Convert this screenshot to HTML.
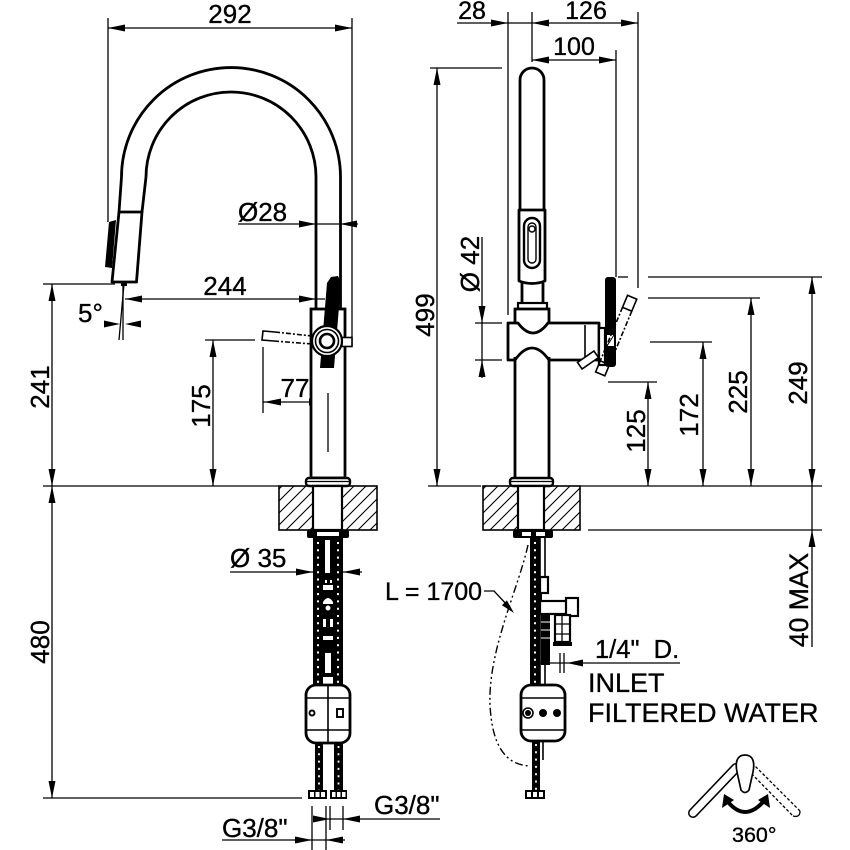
<!DOCTYPE html>
<html><head><meta charset="utf-8"><style>
html,body{margin:0;padding:0;background:#fff;}
svg{display:block;}
text{font-family:"Liberation Sans",Arial,sans-serif;fill:#000;stroke:#000;stroke-width:0.35;}
</style></head><body>
<svg width="850" height="850" viewBox="0 0 850 850" xmlns="http://www.w3.org/2000/svg">
<defs>
<pattern id="h" patternUnits="userSpaceOnUse" width="12" height="12">
<path d="M0,12 L12,0 M-3,3 L3,-3 M9,15 L15,9" stroke="#000" stroke-width="1.1"/>
</pattern>
</defs>
<rect width="850" height="850" fill="#fff"/>

<!-- ============ LEFT VIEW: DIMENSIONS ============ -->
<g stroke="#000" stroke-width="1.3" fill="none">
<line x1="108" y1="18" x2="108" y2="222"/>
<line x1="352" y1="18" x2="352" y2="346"/>
<line x1="108" y1="28" x2="352" y2="28"/>
<line x1="238" y1="224" x2="358" y2="224"/>
<line x1="125" y1="299" x2="325" y2="299"/>
<line x1="123" y1="284" x2="123" y2="340"/>
<line x1="124" y1="284" x2="119" y2="340"/>
<line x1="43" y1="284" x2="115" y2="284"/>
<line x1="52" y1="284" x2="52" y2="798"/>
<line x1="43" y1="486" x2="279" y2="486"/>
<line x1="43" y1="798" x2="302" y2="798"/>
<line x1="205" y1="340" x2="255" y2="340"/>
<line x1="213" y1="340" x2="213" y2="486"/>
<line x1="263" y1="347" x2="263" y2="413"/>
<line x1="263" y1="402" x2="328" y2="402"/>
<line x1="328" y1="393" x2="328" y2="452"/>
<line x1="230" y1="572" x2="362" y2="572"/>
<line x1="222" y1="840" x2="345" y2="840"/>
<line x1="313" y1="819" x2="440" y2="819"/>
<line x1="312" y1="806" x2="312" y2="850"/>
<line x1="326" y1="806" x2="326" y2="850"/>
<line x1="330" y1="806" x2="330" y2="830"/>
<line x1="343" y1="806" x2="343" y2="830"/>
</g>
<g fill="#000">
<polygon points="108,28 125,24.5 125,31.5"/>
<polygon points="352,28 335,24.5 335,31.5"/>
<polygon points="316,224 299,220.5 299,227.5"/>
<polygon points="340,224 357,220.5 357,227.5"/>
<polygon points="125,299 142,295.5 142,302.5"/>
<polygon points="316,299 299,295.5 299,302.5"/>
<polygon points="120,324 104,320.5 104,327.5"/>
<polygon points="125,324 141,320.5 141,327.5"/>
<polygon points="52,284 48.5,301 55.5,301"/>
<polygon points="52,486 48.5,469 55.5,469"/>
<polygon points="52,486 48.5,503 55.5,503"/>
<polygon points="52,798 48.5,781 55.5,781"/>
<polygon points="213,340 209.5,357 216.5,357"/>
<polygon points="213,486 209.5,469 216.5,469"/>
<polygon points="264,402 281,398.5 281,405.5"/>
<polygon points="326,402 309,398.5 309,405.5"/>
<polygon points="313,572 296,568.5 296,575.5"/>
<polygon points="343,572 360,568.5 360,575.5"/>
<polygon points="312,840 295,836.5 295,843.5"/>
<polygon points="326,840 343,836.5 343,843.5"/>
<polygon points="330,819 313,815.5 313,822.5"/>
<polygon points="343,819 360,815.5 360,822.5"/>
</g>
<text x="230" y="23" font-size="26" text-anchor="middle">292</text>
<text x="238" y="221" font-size="26">Ø28</text>
<text x="225" y="295" font-size="26" text-anchor="middle">244</text>
<text x="78" y="322" font-size="26">5°</text>
<text transform="translate(49,387) rotate(-90)" font-size="26" text-anchor="middle">241</text>
<text transform="translate(49,642) rotate(-90)" font-size="26" text-anchor="middle">480</text>
<text transform="translate(210,406) rotate(-90)" font-size="26" text-anchor="middle">175</text>
<text x="295" y="397" font-size="26" text-anchor="middle">77</text>
<text x="230" y="567" font-size="26">Ø 35</text>
<text x="222" y="837" font-size="26">G3/8"</text>
<text x="374" y="814" font-size="26">G3/8"</text>

<!-- ============ LEFT VIEW: FAUCET ============ -->
<g stroke="#000" stroke-width="2.8" fill="none" stroke-linejoin="round">
<path d="M121.5,177 A109.5,109.5 0 0 1 340.5,177 L340.5,309"/>
<path d="M121.5,177 L119,212"/>
<path d="M146,177 A85,85 0 0 1 316,177 L316,309"/>
<path d="M146,177 L142,212"/>
<path d="M119,212 L142,212 L136.5,282 L112,282 Z" fill="#fff"/>
</g>
<polygon points="109,222 116,220 112,268 105,267" fill="#000"/>
<rect x="121" y="282" width="6" height="4" fill="#000"/>
<!-- body -->
<rect x="311" y="309" width="34" height="169" fill="#fff" stroke="#000" stroke-width="2.8"/>
<line x1="328" y1="393" x2="328" y2="452" stroke="#000" stroke-width="1.3"/>
<!-- dashed handle -->
<g stroke="#000" stroke-width="1.6" fill="none">
<path d="M275,332 L263,331 L262,340 L274,341"/>
<path d="M275,332 L312,336 M274,341 L312,344" stroke-dasharray="5 2 2 2"/>
</g>
<rect x="342" y="337.5" width="10" height="9" fill="#fff" stroke="#000" stroke-width="1.6"/>
<polygon points="327,283 331,277 338,276 341,282 334,368 320,368" fill="#000"/>
<circle cx="327" cy="341" r="15" fill="#fff" stroke="#000" stroke-width="2.2"/>
<circle cx="327" cy="341" r="11.5" fill="none" stroke="#000" stroke-width="1.6"/>
<circle cx="327" cy="341" r="7" fill="#fff" stroke="#000" stroke-width="2.6"/>
<!-- flange -->
<rect x="306" y="478" width="44" height="8" rx="3" fill="#fff" stroke="#000" stroke-width="2.4"/>
<line x1="307" y1="481.5" x2="349" y2="481.5" stroke="#000" stroke-width="1.3"/>
<!-- deck -->
<rect x="279" y="486" width="98" height="44" fill="url(#h)" stroke="#000" stroke-width="1.6"/>
<rect x="313" y="486" width="29" height="44" fill="#fff" stroke="#000" stroke-width="2.2"/>
<!-- nut -->
<rect x="307" y="530" width="42" height="8" rx="2" fill="#000"/>
<rect x="317" y="532" width="22" height="4" fill="#fff"/>
<!-- hoses -->
<rect x="313" y="538" width="30" height="147" fill="#000"/>
<g stroke="#fff" stroke-width="2" stroke-dasharray="2 5.3">
<line x1="318" y1="542" x2="318" y2="685"/>
<line x1="338" y1="542" x2="338" y2="685"/>
</g>
<g fill="#fff">
<rect x="325" y="540" width="5" height="33"/>
<rect x="325" y="580" width="2" height="3"/><rect x="330" y="580" width="2" height="3"/>
<rect x="323" y="585" width="10" height="5"/>
<path d="M323,602 Q328,594 333,602 L333,604 L323,604 Z"/>
<circle cx="328" cy="608" r="2.5"/>
<rect x="323" y="619" width="3" height="8"/><rect x="330" y="619" width="3" height="8"/>
<rect x="323" y="636" width="10" height="4"/>
<rect x="325" y="653" width="6" height="20"/>
<rect x="323" y="677" width="10" height="8"/>
</g>
<!-- valve box left -->
<rect x="306" y="685" width="44" height="58" rx="10" fill="#fff" stroke="#000" stroke-width="2.8"/>
<g stroke="#000" stroke-width="1.6">
<line x1="307" y1="698" x2="349" y2="698"/>
<line x1="307" y1="730" x2="349" y2="730"/>
<line x1="328" y1="686" x2="328" y2="742"/>
</g>
<circle cx="312" cy="713" r="2.5" fill="none" stroke="#000" stroke-width="1.9"/>
<rect x="337" y="709" width="6" height="8" fill="none" stroke="#000" stroke-width="1.9"/>
<rect x="315" y="743" width="8" height="47" fill="#000"/>
<rect x="334" y="743" width="9" height="47" fill="#000"/>
<g stroke="#fff" stroke-width="1.8" stroke-dasharray="2 5.3">
<line x1="319" y1="746" x2="319" y2="790"/>
<line x1="338.5" y1="746" x2="338.5" y2="790"/>
</g>
<rect x="308" y="790" width="19" height="9" fill="#000"/>
<rect x="330" y="790" width="17" height="9" fill="#000"/>
<g fill="#fff">
<rect x="310" y="792" width="4" height="5"/><rect x="315.5" y="792" width="4" height="5"/><rect x="321" y="792" width="4" height="5"/>
<rect x="332" y="792" width="3.5" height="5"/><rect x="337" y="792" width="3.5" height="5"/><rect x="342" y="792" width="3.5" height="5"/>
</g>

<!-- ============ RIGHT VIEW: DIMENSIONS ============ -->
<g stroke="#000" stroke-width="1.3" fill="none">
<line x1="508" y1="12" x2="508" y2="315"/>
<line x1="532" y1="12" x2="532" y2="62"/>
<line x1="638" y1="12" x2="638" y2="288"/>
<line x1="616" y1="50" x2="616" y2="277"/>
<line x1="457" y1="23" x2="638" y2="23"/>
<line x1="532" y1="60" x2="616" y2="60"/>
<line x1="430" y1="68" x2="502" y2="68"/>
<line x1="437" y1="68" x2="437" y2="486"/>
<line x1="428" y1="486" x2="481" y2="486"/>
<line x1="482" y1="237" x2="482" y2="378"/>
<line x1="475" y1="323" x2="502" y2="323"/>
<line x1="475" y1="360" x2="502" y2="360"/>
<line x1="608" y1="382" x2="657" y2="382"/>
<line x1="648" y1="382" x2="648" y2="486"/>
<line x1="650" y1="342" x2="712" y2="342"/>
<line x1="703" y1="342" x2="703" y2="486"/>
<line x1="648" y1="298" x2="760" y2="298"/>
<line x1="751" y1="298" x2="751" y2="486"/>
<line x1="618" y1="277" x2="628" y2="277"/>
<line x1="648" y1="277" x2="822" y2="277"/>
<line x1="812" y1="277" x2="812" y2="647"/>
<line x1="580" y1="486" x2="822" y2="486"/>
<line x1="588" y1="530" x2="822" y2="530"/>
<path d="M484,591 L494,591 L509,607"/>
<line x1="540" y1="663" x2="680" y2="663"/>
<line x1="560" y1="653" x2="560" y2="673"/>
<line x1="564" y1="653" x2="564" y2="673"/>
</g>
<g fill="#000">
<polygon points="508,23 491,19.5 491,26.5"/>
<polygon points="532,23 549,19.5 549,26.5"/>
<polygon points="638,23 621,19.5 621,26.5"/>
<polygon points="532,60 549,56.5 549,63.5"/>
<polygon points="616,60 599,56.5 599,63.5"/>
<polygon points="437,68 433.5,85 440.5,85"/>
<polygon points="437,486 433.5,469 440.5,469"/>
<polygon points="482,323 478.5,306 485.5,306"/>
<polygon points="482,360 478.5,377 485.5,377"/>
<polygon points="648,382 644.5,399 651.5,399"/>
<polygon points="648,486 644.5,469 651.5,469"/>
<polygon points="703,342 699.5,359 706.5,359"/>
<polygon points="703,486 699.5,469 706.5,469"/>
<polygon points="751,298 747.5,315 754.5,315"/>
<polygon points="751,486 747.5,469 754.5,469"/>
<polygon points="812,277 808.5,294 815.5,294"/>
<polygon points="812,486 808.5,469 815.5,469"/>
<polygon points="812,530 808.5,547 815.5,547"/>
<polygon points="514,613 501.9,605.2 506.9,600.4"/>
<polygon points="567,663 583,659.5 583,666.5"/>
</g>
<text x="472" y="19" font-size="25" text-anchor="middle">28</text>
<text x="586" y="19" font-size="25" text-anchor="middle">126</text>
<text x="574" y="55" font-size="25" text-anchor="middle">100</text>
<text transform="translate(434,315) rotate(-90)" font-size="26" text-anchor="middle">499</text>
<text transform="translate(479,264) rotate(-90)" font-size="26" text-anchor="middle">Ø 42</text>
<text transform="translate(645,431) rotate(-90)" font-size="26" text-anchor="middle">125</text>
<text transform="translate(698,415) rotate(-90)" font-size="26" text-anchor="middle">172</text>
<text transform="translate(747,392) rotate(-90)" font-size="26" text-anchor="middle">225</text>
<text transform="translate(807,383) rotate(-90)" font-size="26" text-anchor="middle">249</text>
<text transform="translate(808,600) rotate(-90)" font-size="26.5" text-anchor="middle">40 MAX</text>
<text x="385" y="600" font-size="25">L = 1700</text>
<text x="595" y="658" font-size="25.5" xml:space="preserve">1/4"  D.</text>
<text x="588" y="692" font-size="27">INLET</text>
<text x="588" y="722" font-size="27">FILTERED WATER</text>

<!-- ============ RIGHT VIEW: FAUCET ============ -->
<g stroke="#000" stroke-width="2.8" fill="none" stroke-linejoin="round">
<path d="M520,210 L520,80 A12,12 0 0 1 544,80 L544,210"/>
<path d="M519,210 L545,210 L545,281 Q532,286 519,281 Z" fill="#fff"/>
<path d="M522,283 L522,304 M543,283 L543,304"/>
</g>
<rect x="524" y="218" width="16" height="50" rx="8" fill="none" stroke="#000" stroke-width="2.4"/>
<rect x="528" y="223" width="8" height="40" rx="4" fill="none" stroke="#000" stroke-width="1.4"/>
<circle cx="532" cy="229" r="3" fill="none" stroke="#000" stroke-width="1.4"/>
<rect x="518" y="303" width="29" height="6" fill="#fff" stroke="#000" stroke-width="2.2"/>
<path d="M515,323 L515,309 L549,309 L549,323" fill="#fff" stroke="#000" stroke-width="2.8"/>
<path d="M508,323 L518,323 Q533,343 548,323 L599,323 L599,360 L549,360 Q532,336 515,360 L508,360 Z" fill="#fff" stroke="#000" stroke-width="2.8" stroke-linejoin="round"/>
<line x1="585" y1="325" x2="585" y2="358" stroke="#000" stroke-width="1.6"/>
<path d="M515,357 L515,478 M549,357 L549,478" stroke="#000" stroke-width="2.8"/>
<!-- alt position small part -->
<g transform="rotate(-35 588 360)">
<rect x="578" y="356" width="20" height="8" fill="#fff" stroke="#000" stroke-width="1.6"/>
</g>
<rect x="599" y="328" width="6" height="37" fill="#fff" stroke="#000" stroke-width="2.2"/>
<rect x="605" y="277" width="11" height="90" rx="3" fill="#000"/>
<rect x="607" y="335" width="7" height="11" fill="#fff"/>
<line x1="607" y1="346" x2="614" y2="335" stroke="#000" stroke-width="1"/>
<!-- dashed alt handle -->
<g transform="rotate(22.6 616 336)" stroke="#000" stroke-width="1.6" fill="none">
<rect x="611" y="294" width="10" height="13"/>
<rect x="611" y="365" width="10" height="12"/>
<path d="M611,307 L611,365 M621,307 L621,365" stroke-dasharray="5 2 2 2"/>
</g>
<!-- flange -->
<rect x="510" y="478" width="43" height="8" rx="3" fill="#fff" stroke="#000" stroke-width="2.4"/>
<line x1="511" y1="481.5" x2="552" y2="481.5" stroke="#000" stroke-width="1.3"/>
<!-- deck -->
<rect x="483" y="486" width="97" height="44" fill="url(#h)" stroke="#000" stroke-width="1.6"/>
<rect x="518" y="486" width="26" height="44" fill="#fff" stroke="#000" stroke-width="2.2"/>
<rect x="513" y="530" width="40" height="8" rx="2" fill="#000"/>
<rect x="522" y="532" width="9" height="4" fill="#fff"/><rect x="536" y="532" width="9" height="4" fill="#fff"/>
<!-- hose + fittings -->
<rect x="530" y="538" width="10" height="147" fill="#000"/>
<line x1="535" y1="542" x2="535" y2="685" stroke="#fff" stroke-width="2" stroke-dasharray="2 5.3"/>
<path d="M540,538 L540,685 M545,538 L545,577 M545,665 L545,685" stroke="#000" stroke-width="1.6" fill="none"/>
<rect x="540" y="577" width="8" height="16" fill="#fff" stroke="#000" stroke-width="2.2"/>
<path d="M541,593 L541,600" stroke="#000" stroke-width="2"/>
<rect x="540" y="601" width="30" height="13" fill="#fff" stroke="#000" stroke-width="2.2"/>
<rect x="566" y="598" width="12" height="18" fill="#fff" stroke="#000" stroke-width="2.2"/>
<rect x="555" y="615" width="15" height="27" fill="#fff" stroke="#000" stroke-width="2.2"/>
<path d="M555,624 L570,624 M555,634 L570,634 M562,615 L562,642" stroke="#000" stroke-width="1.3"/>
<rect x="553" y="642" width="19" height="4" fill="#000"/>
<rect x="541" y="615" width="9" height="50" fill="#000"/>
<g stroke="#fff" stroke-width="1"><line x1="541" y1="622" x2="550" y2="622"/><line x1="541" y1="630" x2="550" y2="630"/><line x1="541" y1="638" x2="550" y2="638"/></g>
<!-- valve box right -->
<rect x="521" y="685" width="44" height="56" rx="10" fill="#fff" stroke="#000" stroke-width="2.8"/>
<g stroke="#000" stroke-width="1.6">
<line x1="522" y1="698" x2="564" y2="698"/>
<line x1="522" y1="730" x2="564" y2="730"/>
</g>
<circle cx="528" cy="713" r="5" fill="#fff" stroke="#000" stroke-width="1.6"/>
<circle cx="528" cy="713" r="3" fill="#000"/>
<circle cx="543" cy="713" r="4" fill="#000"/>
<circle cx="557" cy="713" r="4" fill="#000"/>
<rect x="532" y="741" width="8" height="50" fill="#000"/>
<line x1="536" y1="744" x2="536" y2="790" stroke="#fff" stroke-width="1.8" stroke-dasharray="2 5.3"/>
<line x1="543" y1="741" x2="543" y2="760" stroke="#000" stroke-width="1.6"/>
<rect x="525" y="790" width="20" height="9" fill="#000"/>
<rect x="527" y="792" width="4" height="5" fill="#fff"/><rect x="533" y="792" width="4" height="5" fill="#fff"/><rect x="539" y="792" width="4" height="5" fill="#fff"/>
<!-- dash-dot hose -->
<path d="M528,545 C518,590 488,650 490,705 C492,745 505,765 530,766" fill="none" stroke="#000" stroke-width="1.4" stroke-dasharray="8 3 2 3 2 3"/>

<!-- ============ 360 ICON ============ -->
<path d="M736,768 L693,813" stroke="#000" stroke-width="10" stroke-linecap="round"/>
<path d="M736,768 L693,813" stroke="#fff" stroke-width="7" stroke-linecap="round"/>
<g stroke="#000" stroke-width="1.3" fill="none" stroke-dasharray="3 2">
<path d="M752,763 L800,811"/>
<path d="M748,770 L793,816"/>
<path d="M800,811 Q800,818 793,816" stroke-dasharray="none"/>
</g>
<path d="M745,755 C737,755 735,762 737,772 L741,790 Q745,795 749,790 L753,772 C755,762 753,755 745,755 Z" fill="#fff" stroke="#000" stroke-width="1.7"/>
<path d="M728,802 Q745,822 763,802" fill="none" stroke="#000" stroke-width="4"/>
<polygon points="724,794 734,800 722,808" fill="#000"/>
<polygon points="768,794 758,800 770,808" fill="#000"/>
<text x="732" y="842" font-size="21.5">360°</text>
</svg>
</body></html>
